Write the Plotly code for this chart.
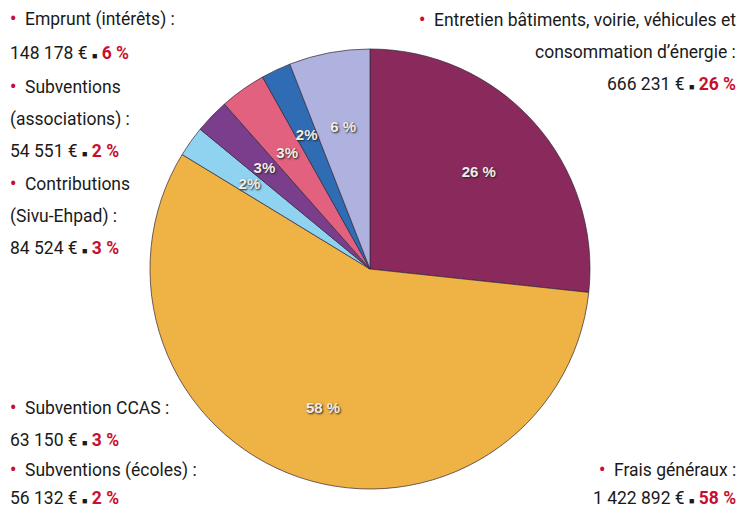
import plotly.graph_objects as go

categories = ["Entretien bâtiments, voirie, véhicules et consommation d'énergie",
              "Frais généraux", "Subventions (écoles)", "Subvention CCAS",
              "Contributions (Sivu-Ehpad)", "Subventions (associations)", "Emprunt (intérêts)"]
values = [666231, 1422892, 56132, 63150, 84524, 54551, 148178]
pct_labels = ["26 %", "58 %", "2%", "3%", "3%", "2%", "6 %"]
colors = ["#8a2a5c", "#efb244", "#8fd3f0", "#7a3e8c", "#e1617f", "#2f6cb3", "#afb1de"]

OFF = 8  # page body margin
W, H = 746 - 2 * OFF, 510 - OFF
cx, cy, R = 370 - OFF, 269 - OFF, 220

def dom(r):
    return dict(x=[(cx - r) / W, (cx + r) / W], y=[1 - (cy + r) / H, 1 - (cy - r) / H])

tfont = dict(family="Liberation Sans, Arial, sans-serif", size=15, color="#f2ece6",
             weight="bold", shadow="1px 1px 2px #222")

def pick(idx):
    return [t if i in idx else "" for i, t in enumerate(pct_labels)]

fig = go.Figure()
fig.add_trace(go.Pie(
    labels=categories, values=values, textinfo="none",
    sort=False, direction="clockwise", rotation=0,
    marker=dict(colors=colors, line=dict(color="rgba(50,40,60,0.7)", width=1)),
    domain=dom(R), showlegend=False, hoverinfo="label+value+percent",
))
# transparent overlays carrying the percentage labels
for idx, rr, hole in [((0, 1), R, 0.33), ((2, 3, 4, 5), R * 0.72, 0), ((6,), R * 0.78, 0)]:
    fig.add_trace(go.Pie(
        labels=categories, values=values, text=pick(idx), textinfo="text",
        sort=False, direction="clockwise", rotation=0, hole=hole,
        marker=dict(colors=["rgba(0,0,0,0)"] * len(values), line=dict(width=0)),
        textposition="inside", insidetextorientation="horizontal", textfont=tfont,
        domain=dom(rr), showlegend=False, hoverinfo="skip",
    ))

RED = "#c8102e"
bullet = f"<span style='color:{RED}'><b>•</b>\u00a0\u00a0</span>"
sq = "<span style='font-size:9px'>■</span> "

def pc(p):
    return f"{sq}<b><span style='color:{RED}'>{p}</span></b>"

left_lines = [
    (20, bullet + "Emprunt (intérêts) :"),
    (53, "148 178 € " + pc("6 %")),
    (87, bullet + "Subventions"),
    (119, "(associations) :"),
    (151, "54 551 € " + pc("2 %")),
    (184, bullet + "Contributions"),
    (216, "(Sivu-Ehpad) :"),
    (248, "84 524 € " + pc("3 %")),
    (408, bullet + "Subvention CCAS :"),
    (440, "63 150 € " + pc("3 %")),
    (470, bullet + "Subventions (écoles) :"),
    (498, "56 132 € " + pc("2 %")),
]
right_lines = [
    (20, bullet + "Entretien bâtiments, voirie, véhicules et"),
    (52, "consommation d’énergie :"),
    (84, "666 231 € " + pc("26 %")),
    (470, bullet + "Frais généraux :"),
    (498, "1 422 892 € " + pc("58 %")),
]

font = dict(family="Roboto, sans-serif", size=17.5, color="#1a1a1a")
anns = []
for y, t in left_lines:
    anns.append(dict(x=0, y=1 - (y - OFF) / H, xref="paper", yref="paper", text=t,
                     showarrow=False, xanchor="left", yanchor="middle", font=font))
for y, t in right_lines:
    anns.append(dict(x=1, y=1 - (y - OFF) / H, xref="paper", yref="paper", text=t,
                     showarrow=False, xanchor="right", yanchor="middle", font=font))

fig.update_layout(
    width=W, height=H, margin=dict(l=0, r=0, t=0, b=0),
    paper_bgcolor="white", plot_bgcolor="white",
    annotations=anns,
    uniformtext=dict(minsize=15, mode="show"),
)
fig.write_html("out.html")
